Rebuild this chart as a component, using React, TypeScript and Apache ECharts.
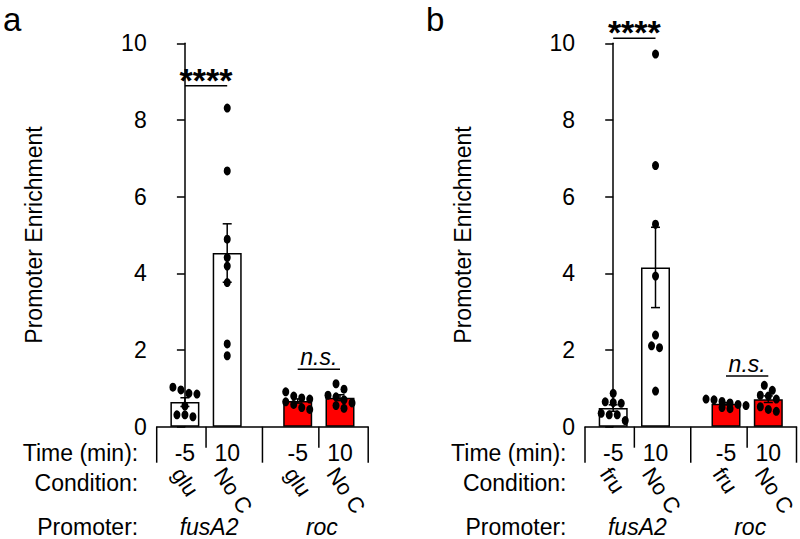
import React, { useEffect, useRef } from "react";
import * as echarts from "echarts";

// ---------- data ----------
const timeLabels = ["-5", "10", "-5", "10"];
const conditionsA = ["glu", "No C", "glu", "No C"];
const conditionsB = ["fru", "No C", "fru", "No C"];
const promoters = ["fusA2", "roc"];
const barGroup = [0, 0, 1, 1];

const pointsA = [
  [1.03, 0.96, 0.87, 0.85, 0.54, 0.31, 0.31, 0.26],
  [8.31, 6.67, 4.89, 4.41, 4.19, 3.76, 2.16, 1.85],
  [0.91, 0.8, 0.75, 0.72, 0.65, 0.58, 0.5, 0.45],
  [1.12, 0.98, 0.82, 0.78, 0.7, 0.62, 0.55, 0.48],
];
const pointsB = [
  [0.87, 0.65, 0.63, 0.61, 0.35, 0.31, 0.31, 0.16],
  [9.72, 6.81, 5.28, 3.93, 2.39, 2.11, 2.06, 0.93],
  [0.72, 0.7, 0.66, 0.62, 0.58, 0.55, 0.5, 0.47],
  [1.08, 0.95, 0.82, 0.8, 0.72, 0.52, 0.45, 0.4],
];

const sigLabels = ["****", "n.s."];
const sigPairs = [
  [0, 1],
  [2, 3],
];
const sigLevelsA = [8.89, 1.5];
const sigLevelsB = [10.13, 1.32];

const yMin = 0;
const yMax = 10;
const yInterval = 2;
const rowLabels = ["Time (min):", "Condition:", "Promoter:"];

// ---------- layout / style ----------
const FONT = '"Liberation Sans", Arial, Helvetica, sans-serif';
const TOP = 43.3;
const HEIGHT = 383.4;
const WIDTH = 211.5;
const GROUP_GAP = 2 / 3;
const MARGIN = 2 / 3;
const FS = 23;
const fillColors = ["#ffffff", "#ff0000"];

const positions = barGroup.map((g, i) => i + g * GROUP_GAP);
const xMin = positions[0] - MARGIN;
const xMax = positions[positions.length - 1] + MARGIN;
const pxPerX = WIDTH / (xMax - xMin);

const mean = (a: number[]) => a.reduce((s, v) => s + v, 0) / a.length;
const sem = (a: number[]) => {
  const m = mean(a);
  const v = a.reduce((s, x) => s + (x - m) * (x - m), 0) / (a.length - 1);
  return Math.sqrt(v) / Math.sqrt(a.length);
};

function swarm(vals: number[], binH: number, step: number): number[] {
  const order = vals.map((_, i) => i).sort((a, b) => vals[b] - vals[a]);
  const off = new Array(vals.length).fill(0);
  let k = 0;
  while (k < order.length) {
    const top = vals[order[k]];
    let j = k;
    while (j < order.length && vals[order[j]] >= top - binH) j++;
    const n = j - k;
    for (let m = 0; m < n; m++) off[order[k + m]] = (m - (n - 1) / 2) * step;
    k = j;
  }
  return off;
}

const separators: { x: number; long: boolean }[] = [];
separators.push({ x: xMin, long: true });
for (let i = 0; i < positions.length - 1; i++) {
  separators.push({
    x: (positions[i] + positions[i + 1]) / 2,
    long: barGroup[i] !== barGroup[i + 1],
  });
}
separators.push({ x: xMax, long: true });

const groupCenters = promoters.map((_, g) => {
  const ps = positions.filter((_, i) => barGroup[i] === g);
  return mean(ps);
});

const panels = [
  { left: 156.7, letter: "a", letterX: 3, points: pointsA, conditions: conditionsA, sig: sigLevelsA },
  { left: 585, letter: "b", letterX: 426, points: pointsB, conditions: conditionsB, sig: sigLevelsB },
];

function buildOption() {
  const grid: any[] = [];
  const xAxis: any[] = [];
  const yAxis: any[] = [];
  const series: any[] = [];
  const graphic: any[] = [];

  panels.forEach((p, pi) => {
    grid.push({ left: p.left, top: TOP, width: WIDTH, height: HEIGHT, containLabel: false });
    xAxis.push({
      type: "value",
      gridIndex: pi,
      min: xMin,
      max: xMax,
      axisLine: { show: true, onZero: true, lineStyle: { color: "#000", width: 1.5 } },
      axisTick: { show: false },
      axisLabel: { show: false },
      splitLine: { show: false },
    });
    yAxis.push({
      type: "value",
      gridIndex: pi,
      min: yMin,
      max: yMax,
      interval: yInterval,
      name: "Promoter Enrichment",
      nameLocation: "middle",
      nameGap: 111,
      nameTextStyle: { fontSize: FS, color: "#000", fontFamily: FONT },
      axisLine: { show: true, lineStyle: { color: "#000", width: 1.5 } },
      axisTick: { show: true, length: 8, lineStyle: { color: "#000", width: 1.5 } },
      axisLabel: { fontSize: FS, color: "#000", fontFamily: FONT, margin: 10 },
      splitLine: { show: false },
    });

    const means = p.points.map(mean);
    const sems = p.points.map(sem);

    series.push({
      type: "bar",
      xAxisIndex: pi,
      yAxisIndex: pi,
      barWidth: 29,
      z: 2,
      data: positions.map((x, i) => ({
        value: [x, means[i]],
        itemStyle: { color: fillColors[barGroup[i]], borderColor: "#000", borderWidth: 1.5 },
      })),
    });

    series.push({
      type: "custom",
      coordinateSystem: "cartesian2d",
      xAxisIndex: pi,
      yAxisIndex: pi,
      z: 3,
      data: positions.map((x, i) => [x, means[i], sems[i]]),
      renderItem: (params: any, api: any) => {
        const x = api.value(0);
        const m = api.value(1);
        const s = api.value(2);
        const t = api.coord([x, m + s]);
        const b = api.coord([x, m - s]);
        const hw = 4.5;
        const st = { stroke: "#000", lineWidth: 1.5 };
        return {
          type: "group",
          children: [
            { type: "line", shape: { x1: t[0], y1: t[1], x2: b[0], y2: b[1] }, style: st },
            { type: "line", shape: { x1: t[0] - hw, y1: t[1], x2: t[0] + hw, y2: t[1] }, style: st },
            { type: "line", shape: { x1: b[0] - hw, y1: b[1], x2: b[0] + hw, y2: b[1] }, style: st },
          ],
        };
      },
    });

    const dots: number[][] = [];
    p.points.forEach((vals, i) => {
      const offs = swarm(vals, 0.2, 8 / pxPerX);
      vals.forEach((v, k) => dots.push([positions[i] + offs[k], v]));
    });
    series.push({
      type: "scatter",
      xAxisIndex: pi,
      yAxisIndex: pi,
      z: 4,
      symbol: "circle",
      symbolSize: [7, 9],
      itemStyle: { color: "#000", opacity: 1 },
      data: dots,
    });

    // separators below axis
    series.push({
      type: "custom",
      coordinateSystem: "cartesian2d",
      xAxisIndex: pi,
      yAxisIndex: pi,
      clip: false,
      data: separators.map((s) => [s.x, s.long ? 1 : 0]),
      renderItem: (params: any, api: any) => {
        const c = api.coord([api.value(0), 0]);
        const len = api.value(1) ? 36 : 21;
        return {
          type: "line",
          shape: { x1: c[0], y1: c[1], x2: c[0], y2: c[1] + len },
          style: { stroke: "#000", lineWidth: 1.5 },
        };
      },
    });

    // category labels
    series.push({
      type: "custom",
      coordinateSystem: "cartesian2d",
      xAxisIndex: pi,
      yAxisIndex: pi,
      clip: false,
      data: positions.map((x) => [x, 0]),
      renderItem: (params: any, api: any) => {
        const i = params.dataIndex;
        const c = api.coord([api.value(0), 0]);
        return {
          type: "group",
          children: [
            {
              type: "text",
              x: c[0],
              y: c[1] + 26,
              style: {
                text: timeLabels[i],
                fill: "#000",
                fontSize: FS,
                fontFamily: FONT,
                align: "center",
                verticalAlign: "middle",
              },
            },
            {
              type: "text",
              x: c[0] - 8,
              y: c[1] + 43,
              rotation: (-56 * Math.PI) / 180,
              style: {
                text: p.conditions[i],
                fill: "#000",
                fontSize: 22,
                lineHeight: 17,
                fontFamily: FONT,
                align: "left",
                verticalAlign: "middle",
              },
            },
          ],
        };
      },
    });

    // promoter labels
    series.push({
      type: "custom",
      coordinateSystem: "cartesian2d",
      xAxisIndex: pi,
      yAxisIndex: pi,
      clip: false,
      data: groupCenters.map((x) => [x, 0]),
      renderItem: (params: any, api: any) => {
        const c = api.coord([api.value(0), 0]);
        return {
          type: "text",
          x: c[0] + 3,
          y: c[1] + 100,
          style: {
            text: promoters[params.dataIndex],
            fill: "#000",
            fontSize: FS,
            fontStyle: "italic",
            fontFamily: FONT,
            align: "center",
            verticalAlign: "middle",
          },
        };
      },
    });

    // significance
    series.push({
      type: "custom",
      coordinateSystem: "cartesian2d",
      xAxisIndex: pi,
      yAxisIndex: pi,
      clip: false,
      z: 5,
      data: sigPairs.map((pr, k) => [positions[pr[0]], positions[pr[1]], p.sig[k]]),
      renderItem: (params: any, api: any) => {
        const k = params.dataIndex;
        const a = api.coord([api.value(0), api.value(2)]);
        const b = api.coord([api.value(1), api.value(2)]);
        const stars = sigLabels[k] === "****";
        return {
          type: "group",
          children: [
            {
              type: "line",
              shape: { x1: a[0], y1: a[1], x2: b[0], y2: b[1] },
              style: { stroke: "#000", lineWidth: 1.5 },
            },
            {
              type: "text",
              x: (a[0] + b[0]) / 2,
              y: a[1] - (stars ? 6 : 12),
              style: {
                text: sigLabels[k],
                fill: "#000",
                fontSize: stars ? 34 : FS,
                fontWeight: stars ? "bold" : "normal",
                fontStyle: stars ? "normal" : "italic",
                fontFamily: FONT,
                align: "center",
                verticalAlign: "middle",
              },
            },
          ],
        };
      },
    });

    // row labels & panel letter
    const axisY = TOP + HEIGHT;
    const rowY = [axisY + 26, axisY + 56.6, axisY + 100];
    rowLabels.forEach((t, r) => {
      graphic.push({
        type: "text",
        x: p.left - 18.5,
        y: rowY[r],
        style: {
          text: t,
          fill: "#000",
          fontSize: FS,
          fontFamily: FONT,
          align: "right",
          verticalAlign: "middle",
        },
      });
    });
    graphic.push({
      type: "text",
      x: p.letterX,
      y: 19,
      style: {
        text: p.letter,
        fill: "#000",
        fontSize: 33,
        fontFamily: FONT,
        align: "left",
        verticalAlign: "middle",
      },
    });
  });

  return {
    animation: false,
    backgroundColor: "#ffffff",
    textStyle: { fontFamily: FONT },
    grid,
    xAxis,
    yAxis,
    series,
    graphic,
  };
}

export default function App() {
  const ref = useRef<HTMLDivElement>(null);
  useEffect(() => {
    if (!ref.current) return;
    const chart = echarts.init(ref.current, undefined, { renderer: "svg" });
    chart.setOption(buildOption() as any);
    return () => chart.dispose();
  }, []);
  return (
    <div
      ref={ref}
      style={{ position: "fixed", left: 0, top: 0, width: 800, height: 539, background: "#fff" }}
    />
  );
}
